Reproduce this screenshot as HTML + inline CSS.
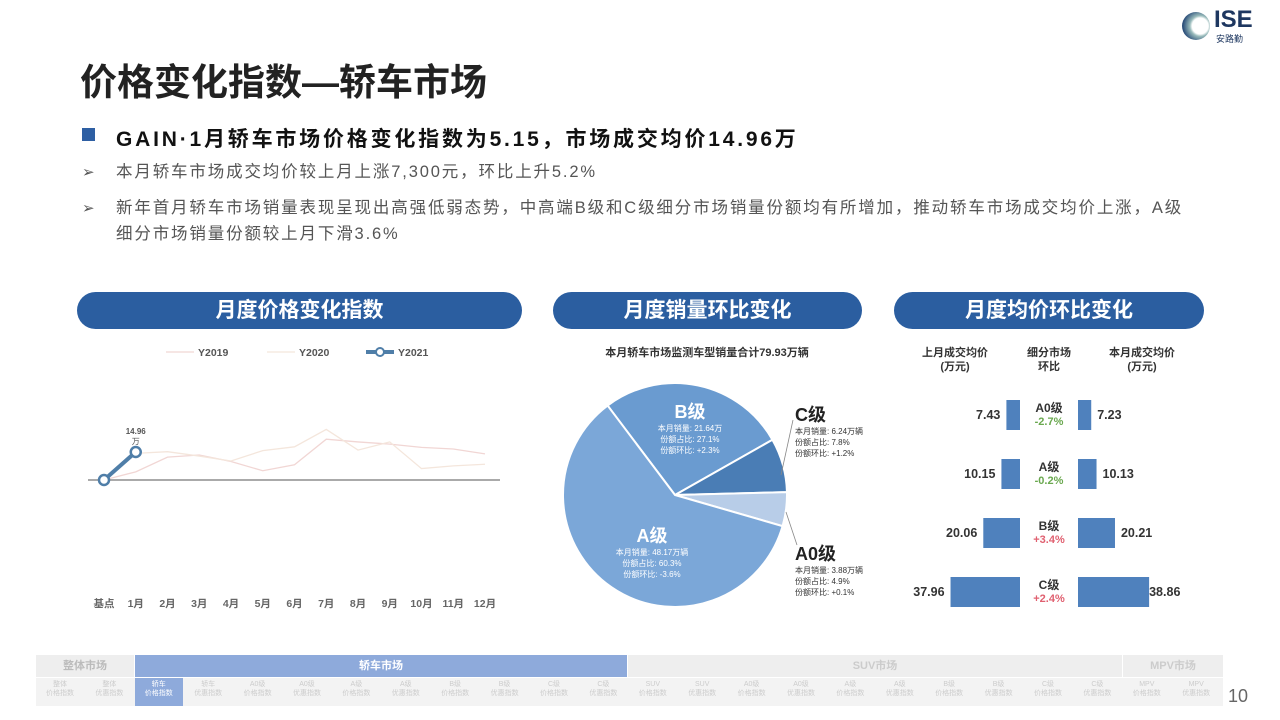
<!DOCTYPE html>
<html><head><meta charset="utf-8">
<style>
*{margin:0;padding:0;box-sizing:border-box}
body{width:1280px;height:720px;background:#fff;position:relative;overflow:hidden;font-family:"Liberation Sans","Noto Sans CJK SC",sans-serif;color:#333}
.abs{position:absolute}
.title{left:80px;top:52px;font-size:37px;font-weight:bold;color:#222;letter-spacing:0px}
.b1{left:116px;top:123px;font-size:21px;font-weight:bold;color:#111;white-space:nowrap;letter-spacing:2.8px}
.sq{left:82px;top:128px;width:13px;height:13px;background:#2e5fa3}
.arr{left:82px;font-size:15px;color:#555}
.t2{left:116px;font-size:16.5px;color:#555;white-space:nowrap;line-height:26px;letter-spacing:1.85px}
.pill{height:37px;border-radius:19px;background:#2b5ea0;color:#fff;font-size:21px;font-weight:bold;text-align:center;line-height:37px;top:292px}
.sub{position:absolute;top:680px;width:48px;font-size:7px;color:#ccc;text-align:center;line-height:9px}
</style></head><body>
<div class="abs title">价格变化指数—轿车市场</div>
<div class="abs" style="left:1182px;top:12px;width:28px;height:28px;border-radius:50%;background:radial-gradient(circle at 65% 50%,#fff 35%,#9bb 45%,#2c4f7a 75%)"></div>
<div class="abs" style="left:1214px;top:8px;font-size:24px;font-weight:bold;color:#1e3760;line-height:24px">ISE</div>
<div class="abs" style="left:1216px;top:32px;font-size:9px;color:#1e3760">安路勤</div>
<div class="abs sq"></div>
<div class="abs b1">GAIN·1月轿车市场价格变化指数为5.15，市场成交均价14.96万</div>
<div class="abs arr" style="top:163px">➢</div>
<div class="abs t2" style="top:159px">本月轿车市场成交均价较上月上涨7,300元，环比上升5.2%</div>
<div class="abs arr" style="top:199px">➢</div>
<div class="abs t2" style="top:195px">新年首月轿车市场销量表现呈现出高强低弱态势，中高端B级和C级细分市场销量份额均有所增加，推动轿车市场成交均价上涨，A级<br>细分市场销量份额较上月下滑3.6%</div>

<div class="abs pill" style="left:77px;width:445px">月度价格变化指数</div>
<div class="abs pill" style="left:553px;width:309px">月度销量环比变化</div>
<div class="abs pill" style="left:894px;width:310px">月度均价环比变化</div>

<div class="abs" style="left:36px;top:655px;width:98px;height:22px;background:#eee;font-size:11px;color:#bbb;text-align:center;line-height:22px;font-weight:bold">整体市场</div>
<div class="abs" style="left:135px;top:655px;width:492px;height:22px;background:#8eaadb;font-size:11px;color:#fff;text-align:center;line-height:22px;font-weight:bold">轿车市场</div>
<div class="abs" style="left:628px;top:655px;width:494px;height:22px;background:#eee;font-size:11px;color:#ccc;text-align:center;line-height:22px;font-weight:bold">SUV市场</div>
<div class="abs" style="left:1123px;top:655px;width:100px;height:22px;background:#eee;font-size:11px;color:#ccc;text-align:center;line-height:22px;font-weight:bold">MPV市场</div>
<div class="abs" style="left:36px;top:678px;width:1187px;height:28px;background:#f3f3f3"></div>
<div class="abs" style="left:135px;top:678px;width:48px;height:28px;background:#8eaadb"></div>
<div id="subs"></div>
<div class="abs" style="left:1228px;top:686px;font-size:18px;color:#666">10</div>

<svg class="abs" style="left:0;top:0" width="1280" height="650" id="chart"></svg>

<script>
const months=['基点','1月','2月','3月','4月','5月','6月','7月','8月','9月','10月','11月','12月'];
const y2019=[0,1.5,4.2,4.6,3.4,1.7,2.8,7.5,7.0,6.6,6.0,5.7,4.8];
const y2020=[0,4.9,5.2,4.4,3.5,5.4,6.1,9.3,5.5,7.0,2.1,2.6,2.9];
const y2021=[0,5.15];
const pieCats=['B级','C级','A0级','A级'];
const pieShares=[27.1,7.8,4.9,60.3];
const pieSales=['21.64万','6.24万辆','3.88万辆','48.17万辆'];
const pieShareChg=['+2.3%','+1.2%','+0.1%','-3.6%'];
const segCats=['A0级','A级','B级','C级'];
const prevPrice=[7.43,10.15,20.06,37.96];
const curPrice=[7.23,10.13,20.21,38.86];
const momChg=['-2.7%','-0.2%','+3.4%','+2.4%'];
const subTabs=[['整体','价格指数'],['整体','优惠指数'],['轿车','价格指数'],['轿车','优惠指数'],['A0级','价格指数'],['A0级','优惠指数'],['A级','价格指数'],['A级','优惠指数'],['B级','价格指数'],['B级','优惠指数'],['C级','价格指数'],['C级','优惠指数'],['SUV','价格指数'],['SUV','优惠指数'],['A0级','价格指数'],['A0级','优惠指数'],['A级','价格指数'],['A级','优惠指数'],['B级','价格指数'],['B级','优惠指数'],['C级','价格指数'],['C级','优惠指数'],['MPV','价格指数'],['MPV','优惠指数']];

const subs=document.getElementById('subs');
subTabs.forEach((s,i)=>{const d=document.createElement('div');d.className='sub';d.style.left=(36+i*49.4)+'px';if(i===2)d.style.color='#fff';d.innerHTML=s[0]+'<br>'+s[1];


subs.appendChild(d);});

const svg=document.getElementById('chart');
const NS='http://www.w3.org/2000/svg';
function mk(t,a,txt){const e=document.createElementNS(NS,t);for(const k in a)e.setAttribute(k,a[k]);if(txt!==undefined)e.textContent=txt;svg.appendChild(e);return e;}
const xL=i=>104+i*31.75, yL=v=>480-v*5.44;
let e=mk('line',{x1:88,y1:480,x2:500,y2:480,stroke:'#777','stroke-width':1.2});

months.forEach((m,i)=>{let t=mk('text',{x:xL(i),y:607,'text-anchor':'middle','font-size':10.5,'font-weight':'bold',fill:'#666'},m);
});
function pl(arr,col,w,name){let p=mk('polyline',{points:arr.map((v,i)=>xL(i)+','+yL(v)).join(' '),fill:'none',stroke:col,'stroke-width':w});
}
pl(y2019,'#f1d6d4',1.3,'line-y2019');pl(y2020,'#f4e6dc',1.3,'line-y2020');pl(y2021,'#4f7ea8',4,'line-y2021');
y2021.forEach((v,i)=>{let c=mk('circle',{cx:xL(i),cy:yL(v),r:5,fill:'#fff',stroke:'#4f7ea8','stroke-width':2.5});
});
const li=y2021.length-1;
e=mk('text',{x:xL(li),y:yL(y2021[li])-18,'text-anchor':'middle','font-size':8,'font-weight':'bold',fill:'#555'},'14.96');

e=mk('text',{x:xL(li),y:yL(y2021[li])-8,'text-anchor':'middle','font-size':8,fill:'#555'},'万');

[['Y2019','#f1d6d4',166],['Y2020','#f4e6dc',267],['Y2021','#4f7ea8',366]].forEach(([n,c,x])=>{
 let l=mk('line',{x1:x,y1:352,x2:x+28,y2:352,stroke:c,'stroke-width':n==='Y2021'?4:1.3});
 
 if(n==='Y2021'){let c2=mk('circle',{cx:x+14,cy:352,r:4,fill:'#fff',stroke:c,'stroke-width':2});}
 let t=mk('text',{x:x+32,y:356,'font-size':10.5,'font-weight':'bold',fill:'#555'},n);
 });
e=mk('text',{x:707,y:356,'text-anchor':'middle','font-size':11,'font-weight':'bold',fill:'#333'},'本月轿车市场监测车型销量合计79.93万辆');

const cx=675,cy=495,R=112;const cols=['#6a9bd0','#4a7db5','#b8cde8','#7ba7d8'];
let ang=323;const tot=pieShares.reduce((a,b)=>a+b,0);
const P=(a,r)=>[cx+r*Math.sin(a*Math.PI/180),cy-r*Math.cos(a*Math.PI/180)];
pieShares.forEach((s,i)=>{const a0=ang,a1=ang+s/tot*360;ang=a1;
 const p0=P(a0,R),p1=P(a1,R);
 let p=mk('path',{d:`M${cx},${cy}L${p0}A${R},${R} 0 ${a1-a0>180?1:0} 1 ${p1}Z`,fill:cols[i],stroke:'#fff','stroke-width':2});
 });
[[0,690,418],[3,652,542]].forEach(([i,x,y])=>{
 let t=mk('text',{x:x,y:y,'text-anchor':'middle','font-size':18,'font-weight':'bold',fill:'#fff'},pieCats[i]);
 
 ['本月销量: '+pieSales[i],'份额占比: '+pieShares[i]+'%','份额环比: '+pieShareChg[i]].forEach((s,k)=>{
  let u=mk('text',{x:x,y:y+13+k*11,'text-anchor':'middle','font-size':8,fill:'#fff'},s);
  });});
[[1,795,421],[2,795,560]].forEach(([i,x,y])=>{
 let t=mk('text',{x:x,y:y,'font-size':18,'font-weight':'bold',fill:'#222'},pieCats[i]);
 
 ['本月销量: '+pieSales[i],'份额占比: '+pieShares[i]+'%','份额环比: '+pieShareChg[i]].forEach((s,k)=>{
  let u=mk('text',{x:x,y:y+13+k*11,'font-size':8,fill:'#333'},s);
  });});
e=mk('polyline',{points:'781,475 793,420',fill:'none',stroke:'#888','stroke-width':0.8});
e=mk('polyline',{points:'786,512 797,545',fill:'none',stroke:'#888','stroke-width':0.8});
[['上月成交均价','(万元)',955],['细分市场','环比',1049],['本月成交均价','(万元)',1142]].forEach(([a,b,x])=>{
 let t=mk('text',{x:x,y:356,'text-anchor':'middle','font-size':11,'font-weight':'bold',fill:'#333'},a);
 t=mk('text',{x:x,y:370,'text-anchor':'middle','font-size':11,'font-weight':'bold',fill:'#333'},b);});
const sc=1.83;
segCats.forEach((c,i)=>{const yc=413+i*59;const h=30;
 let w=prevPrice[i]*sc;
 let r=mk('rect',{x:1020-w,y:yc-h/2+2,width:w,height:h,fill:'#4f81bd'});
 let t=mk('text',{x:1020-w-6,y:yc+6,'text-anchor':'end','font-size':12.5,'font-weight':'bold',fill:'#333'},prevPrice[i].toFixed(2));
 w=curPrice[i]*sc;
 r=mk('rect',{x:1078,y:yc-h/2+2,width:w,height:h,fill:'#4f81bd'});
 t=mk('text',{x:1078+w+(i==3?0:6),y:yc+6,'font-size':12.5,'font-weight':'bold',fill:'#333'},curPrice[i].toFixed(2));
 t=mk('text',{x:1049,y:yc-1,'text-anchor':'middle','font-size':12,'font-weight':'bold',fill:'#333'},c);
 t=mk('text',{x:1049,y:yc+12,'text-anchor':'middle','font-size':11,'font-weight':'bold',fill:momChg[i][0]=='-'?'#6aa84f':'#e06070'},momChg[i]);});
</script>
</body></html>
